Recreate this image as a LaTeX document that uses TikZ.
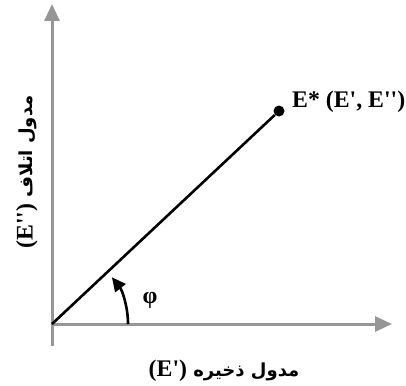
\documentclass[tikz,border=0pt]{standalone}
\usepackage{fontspec}
\setmainfont{Liberation Serif}
\newfontfamily\arabicfont[Script=Arabic]{DejaVu Sans}
\TeXXeTstate=1
\usetikzlibrary{arrows.meta}
\definecolor{axisgray}{RGB}{150,150,150}
\newcommand\sq{\textquotesingle}
\tikzset{
  axisline/.style={draw=axisgray, line width=3pt, -{Triangle[length=17pt,width=15pt]}},
  vecline/.style={draw=black, line width=2.6pt},
  anglearrow/.style={draw=black, line width=2.6pt, -{Triangle[length=14pt,width=13pt]}},
  lbl/.style={font=\bfseries\fontsize{23.8}{28}\selectfont, inner sep=0pt},
  albl/.style={font=\arabicfont\bfseries\fontsize{18}{22}\selectfont, inner sep=0pt}
}
\begin{document}
\begin{tikzpicture}[x=1pt,y=-1pt]
\useasboundingbox (0,0) rectangle (406,385);
\coordinate (O) at (52,324);
\coordinate (xs) at (52,324);
\coordinate (xe) at (392,324);
\coordinate (ys) at (52,346);
\coordinate (ye) at (52,4);
\draw[axisline] (ys) -- (ye);
\draw[axisline] (xs) -- (xe);
\node[circle, fill=black, inner sep=0pt, minimum size=11pt] (E) at (279,111) {};
\draw[vecline] (O) -- (E);
\coordinate (a0) at (128,324);
\draw[anglearrow] (a0) arc[start angle=0, end angle=-38, radius=76];
\node[lbl, anchor=west] (Elab) at (292,102) {E* (E\sq, E\sq\sq)};
\node[lbl] (phi) at (150,300) {φ};
\node[albl] (xlab) at (224,371) {\beginR مدول ذخیره \beginL{\rmfamily\bfseries\fontsize{23.8}{28}\selectfont(E\sq)}\endL\endR};
\node[albl, rotate=90] (ylab) at (27,172) {\beginR مدول اتلاف \beginL{\rmfamily\bfseries\fontsize{23.8}{28}\selectfont(E\sq\sq)}\endL\endR};
\end{tikzpicture}
\end{document}
